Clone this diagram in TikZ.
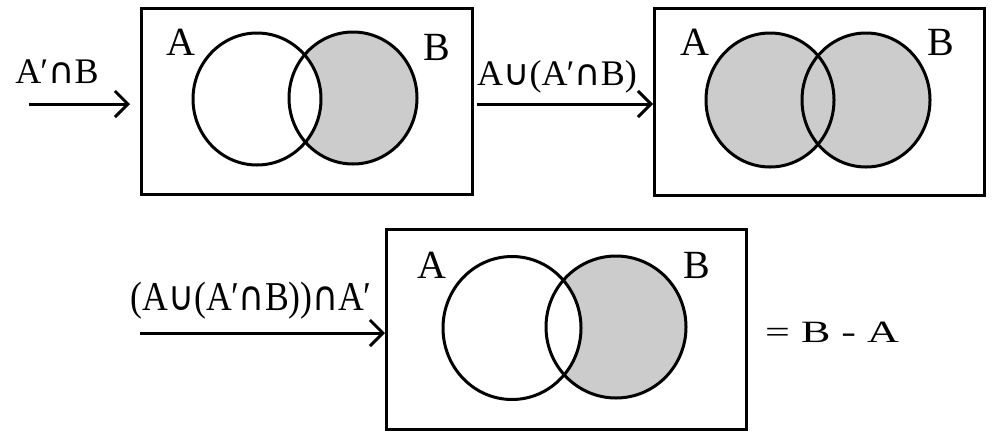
\documentclass[tikz,border=0pt]{standalone}
\usepackage{fontspec}
\setmainfont{Liberation Serif}
\newfontfamily\symfont{DejaVu Sans}
\usetikzlibrary{arrows.meta}
\definecolor{venngray}{gray}{0.8}
\newcommand{\myunion}{{\symfont ∪}}
\newcommand{\myinter}{{\symfont ∩}}
\newcommand{\mypr}{\kern-1pt′}
\tikzset{
  box/.style={draw, line width=3pt, rectangle, inner sep=0pt, anchor=north west},
  setlbl/.style={font=\fontsize{40}{40}\selectfont, inner sep=0pt},
  arrlbl/.style={font=\fontsize{36}{36}\selectfont, inner sep=0pt},
  arr/.style={-{Straight Barb[length=13pt,width=26pt,line width=3pt]}, line width=3pt},
  venn/.style={line width=3pt},
}
\begin{document}
\begin{tikzpicture}[x=1pt,y=-1pt]
\useasboundingbox[fill=white] (0,0) rectangle (992,432);

% ---------- Box 1 : A' cap B ----------
\node[box, minimum width=331pt, minimum height=186pt] (b1) at (140,7) {};
\fill[venngray] (353,98) ellipse [x radius=64, y radius=66];
\fill[white] (257,99) ellipse [x radius=64, y radius=66];
\draw[venn] (257,99) ellipse [x radius=64, y radius=66];
\draw[venn] (353,98) ellipse [x radius=64, y radius=66];
\node[setlbl] (a1) at (181,42) {A};
\node[setlbl] (bb1) at (437,47) {B};

% ---------- Box 2 : A cup (A' cap B) ----------
\node[box, minimum width=330pt, minimum height=187pt] (b2) at (653,7) {};
\fill[venngray] (770,100) ellipse [x radius=64, y radius=67];
\fill[venngray] (866,100) ellipse [x radius=64, y radius=67];
\draw[venn] (770,100) ellipse [x radius=64, y radius=67];
\draw[venn] (866,100) ellipse [x radius=64, y radius=67];
\node[setlbl] (a2) at (695,42) {A};
\node[setlbl] (bb2) at (941,42) {B};

% ---------- Box 3 : (A cup (A' cap B)) cap A' ----------
\node[box, minimum width=360pt, minimum height=200pt] (b3) at (385,228) {};
\fill[venngray] (616,327) ellipse [x radius=70, y radius=71];
\fill[white] (512,328) ellipse [x radius=69, y radius=71.5];
\draw[venn] (512,328) ellipse [x radius=69, y radius=71.5];
\draw[venn] (616,327) ellipse [x radius=70, y radius=71];
\node[setlbl] (a3) at (432,265) {A};
\node[setlbl] (bb3) at (697,265) {B};

% ---------- Arrows and their labels ----------
\coordinate (s1) at (29,104);
\draw[arr] (s1) -- ([xshift=-10pt]s1 -| b1.west);
\node[arrlbl] (l1) at (57,72) {A\mypr\myinter B};

\coordinate (s2) at (477,104);
\draw[arr] (s2) -- (s2 -| b2.west);
\node[arrlbl] (l2) at (557,77) {A\myunion(A\mypr\myinter B)};

\coordinate (s3) at (140,333);
\draw[arr] (s3) -- (s3 -| b3.west);
\node[arrlbl, font=\fontsize{41}{41}\selectfont, xscale=0.87] (l3) at (251,301) {(A\myunion(A\mypr\myinter B))\myinter A\mypr};

\node[inner sep=0pt, font=\fontsize{31}{31}\selectfont, xscale=1.42] (res) at (832,332) {= B - A};
\end{tikzpicture}
\end{document}
